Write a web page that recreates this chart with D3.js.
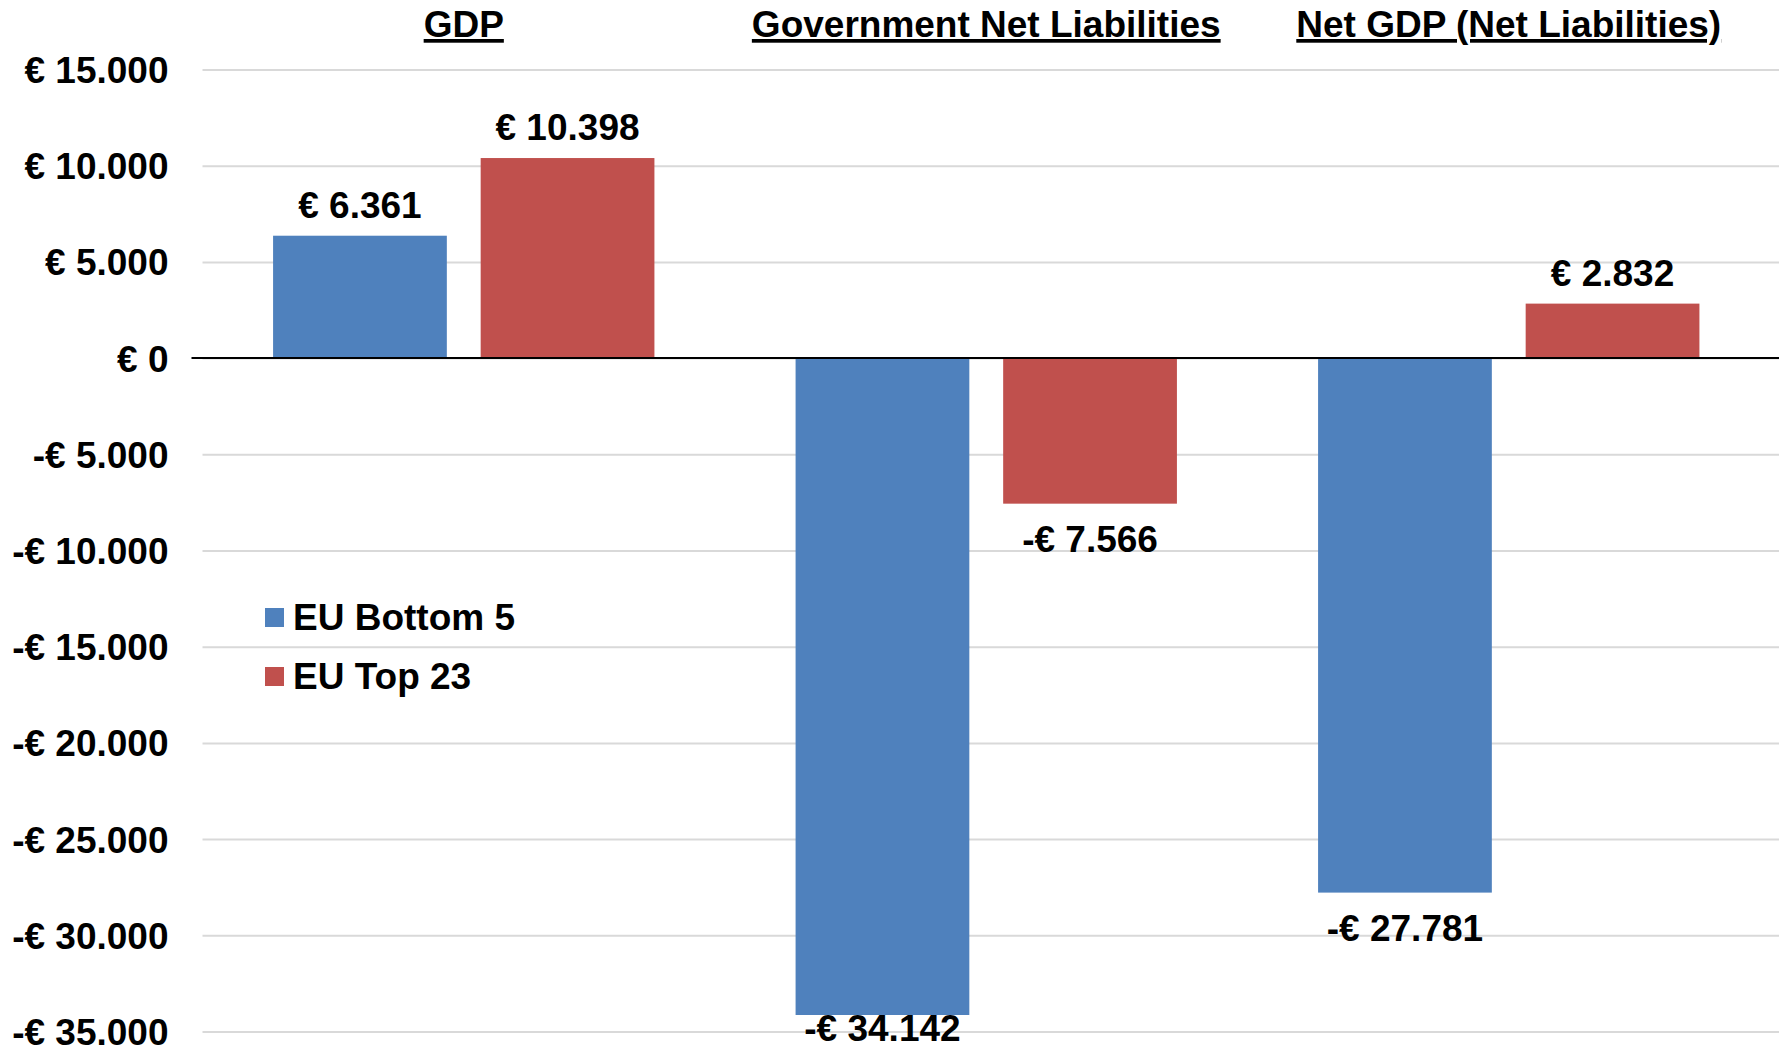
<!DOCTYPE html>
<html>
<head>
<meta charset="utf-8">
<script src="https://cdn.jsdelivr.net/npm/d3@7"></script>
<style>
  body { margin: 0; background: #fff; }
  text { font-family: "Liberation Sans", Arial, sans-serif; font-weight: bold; fill: #000; }
</style>
</head>
<body>
<div id="chart"></div>
<script>
const categories = ["GDP", "Government Net Liabilities", "Net GDP (Net Liabilities)"];
const seriesNames = ["EU Bottom 5", "EU Top 23"];
const bottom5 = [6361, -34142, -27781];
const top23 = [10398, -7566, 2832];
const yTicks = [15000, 10000, 5000, 0, -5000, -10000, -15000, -20000, -25000, -30000, -35000];
const colors = ["#4F81BD", "#C0504D"];

const width = 1785, height = 1047;
const plotLeft = 202.5, plotRight = 1779, plotTop = 69.5, plotBottom = 1031.5;
const barsRight = 1770;

const locale = d3.formatLocale({
  decimal: ",", thousands: ".", grouping: [3], currency: ["€ ", ""], minus: "-"
});
const fmt = locale.format("$,.0f");

const svg = d3.select("#chart").append("svg")
  .attr("width", width).attr("height", height);

const y = d3.scaleLinear().domain([-35000, 15000]).range([plotBottom, plotTop]);
const x0 = d3.scaleBand().domain(categories).range([plotLeft, barsRight]);
const x1 = d3.scaleBand().domain(seriesNames).range([0, x0.bandwidth()])
  .paddingInner(0.163).paddingOuter(0.34);

// gridlines
svg.append("g")
  .attr("transform", `translate(${plotLeft},0)`)
  .call(d3.axisLeft(y).tickValues(yTicks).tickSize(-(plotRight - plotLeft)).tickFormat(""))
  .call(g => g.select(".domain").remove())
  .call(g => g.selectAll("line").attr("stroke", "#d9d9d9").attr("stroke-width", 2));

// y labels
svg.append("g")
  .attr("transform", `translate(${plotLeft},0)`)
  .call(d3.axisLeft(y).tickValues(yTicks).tickSize(0).tickPadding(34).tickFormat(fmt))
  .call(g => g.select(".domain").remove())
  .call(g => g.selectAll("text")
    .attr("font-size", 37).attr("font-family", null).attr("fill", "#000").attr("dy", "0.35em"));

// bars and value labels
const series = [bottom5, top23];
series.forEach((vals, si) => {
  const name = seriesNames[si];
  const rows = categories.map((c, i) => ({ c, v: vals[i] }));
  svg.append("g").selectAll("rect")
    .data(rows)
    .join("rect")
    .attr("x", d => x0(d.c) + x1(name))
    .attr("width", x1.bandwidth())
    .attr("y", d => y(Math.max(0, d.v)))
    .attr("height", d => Math.abs(y(d.v) - y(0)))
    .attr("fill", colors[si]);

  svg.append("g").selectAll("text")
    .data(rows)
    .join("text")
    .attr("x", d => x0(d.c) + x1(name) + x1.bandwidth() / 2)
    .attr("y", d => d.v >= 0 ? y(d.v) - 18 : Math.min(y(d.v) + 48, height - 6))
    .attr("text-anchor", "middle")
    .attr("font-size", 37)
    .text(d => fmt(d.v));
});

// zero line
svg.append("line")
  .attr("x1", plotLeft - 11).attr("x2", plotRight)
  .attr("y1", y(0)).attr("y2", y(0))
  .attr("stroke", "#000").attr("stroke-width", 2);

// category headers
svg.append("g").selectAll("text")
  .data(categories)
  .join("text")
  .attr("x", d => x0(d) + x0.bandwidth() / 2)
  .attr("y", 37)
  .attr("text-anchor", "middle")
  .attr("font-size", 37)
  .style("text-decoration", "underline")
  .text(d => d);

// legend
const legend = svg.append("g").attr("transform", "translate(265,608)");
seriesNames.forEach((s, i) => {
  legend.append("rect")
    .attr("x", 0).attr("y", i * 59)
    .attr("width", 19).attr("height", 19)
    .attr("fill", colors[i]);
  legend.append("text")
    .attr("x", 28).attr("y", i * 59 + 22)
    .attr("font-size", 37)
    .text(s);
});
</script>
</body>
</html>
